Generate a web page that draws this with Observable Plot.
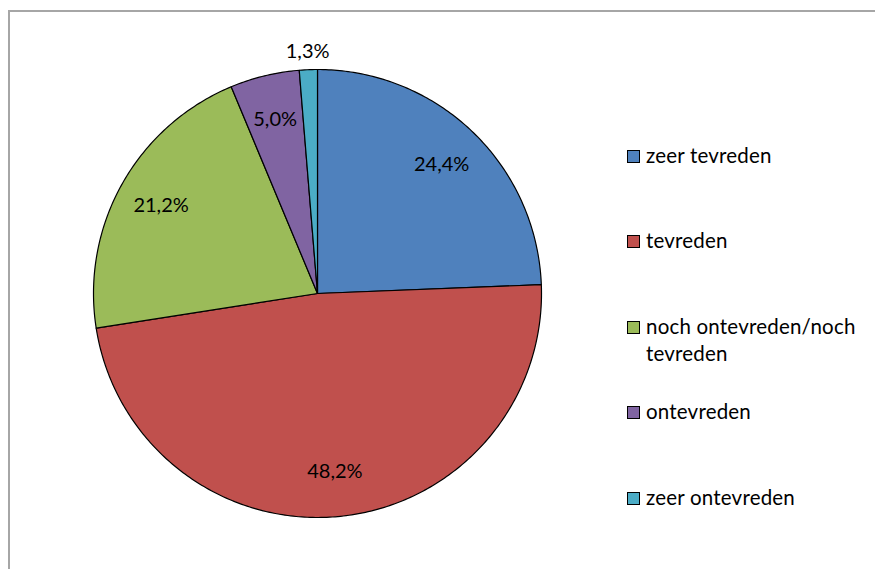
<!DOCTYPE html>
<html><head><meta charset="utf-8">
<script src="https://cdn.jsdelivr.net/npm/d3@7"></script>
<script src="https://cdn.jsdelivr.net/npm/@observablehq/plot@0.6"></script>
<style>
html,body{margin:0;padding:0;background:#fff;overflow:hidden;}
#wrap{position:relative;width:875px;height:569px;overflow:hidden;font-family:Lato,sans-serif;}
#fl{position:absolute;left:8px;top:10px;width:2px;height:600px;background:#a6a6a6;}
#ft{position:absolute;left:8px;top:10px;width:867px;height:2px;background:#a6a6a6;}
#chart{position:absolute;left:0;top:0;}
.leg{position:absolute;left:627px;font-size:20.5px;letter-spacing:0.2px;color:#000;line-height:27px;}
.sw{position:absolute;left:0;top:7px;width:11px;height:11px;border:1px solid #000;}
.lt{position:absolute;left:19px;top:-1px;white-space:nowrap;}
</style></head>
<body><div id="wrap"><div id="fl"></div><div id="ft"></div><div id="chart"></div></div>
<script>
const categories = ["zeer tevreden","tevreden","noch ontevreden/noch tevreden","ontevreden","zeer ontevreden"];
const legendLines = [["zeer tevreden"],["tevreden"],["noch ontevreden/noch","tevreden"],["ontevreden"],["zeer ontevreden"]];
const percentages = [24.4,48.2,21.2,5.0,1.3];
const labels = ["24,4%","48,2%","21,2%","5,0%","1,3%"];
const colors = ["#4F81BD","#C0504D","#9BBB59","#8064A2","#4BACC6"];

const arcs = d3.pie().sort(null).value(d=>d)(percentages);
const pts = [];
arcs.forEach((p,i)=>{
  const c = categories[i];
  pts.push({cat:c, x:0, y:0});
  const n = Math.max(4, Math.ceil((p.endAngle-p.startAngle)*80));
  for(let k=0;k<=n;k++){
    const a = p.startAngle + (p.endAngle-p.startAngle)*k/n;
    pts.push({cat:c, x:Math.sin(a), y:Math.cos(a)});
  }
  pts.push({cat:c, x:0, y:0});
});
const lab = arcs.map((p,i)=>{
  const a = (p.startAngle+p.endAngle)/2;
  const r = percentages[i] < 2 ? 1.08 : 0.8;
  return {text:labels[i], x:r*Math.sin(a), y:r*Math.cos(a)};
});

const plot = Plot.plot({
  width:875, height:569,
  margin:0,
  x:{domain:[-1,1], range:[93,541], axis:null},
  y:{domain:[-1,1], range:[517,69], axis:null},
  color:{domain:categories, range:colors},
  style:{background:"transparent"},
  marks:[
    Plot.line(pts, {x:"x", y:"y", z:"cat", fill:"cat", stroke:"#000", strokeWidth:1.2, strokeLinejoin:"round", curve:"linear"}),
    Plot.text(lab, {x:"x", y:"y", text:"text", fontSize:20, fontFamily:"Lato, sans-serif", fill:"#000"})
  ]
});
document.getElementById("chart").appendChild(plot);

const tops = [143,228,314,399,485];
const wrap = document.getElementById("wrap");
categories.forEach((c,i)=>{
  const d = document.createElement("div");
  d.className="leg"; d.style.top = tops[i]+"px";
  const sw = document.createElement("div"); sw.className="sw"; sw.style.background = colors[i];
  const t = document.createElement("div"); t.className="lt"; t.innerHTML = legendLines[i].join("<br>");
  d.appendChild(sw); d.appendChild(t); wrap.appendChild(d);
});
</script>
</body></html>
